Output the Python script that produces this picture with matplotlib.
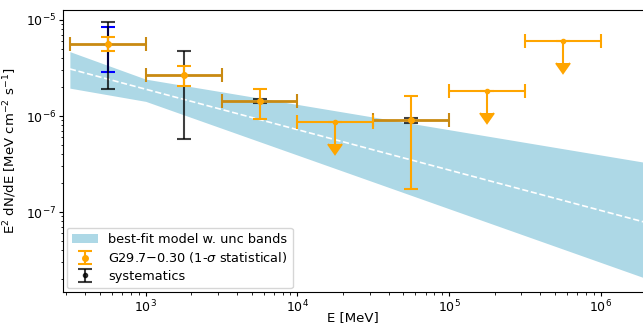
import numpy as np
import matplotlib
matplotlib.use("Agg")
import matplotlib.pyplot as plt

plt.rcParams['font.size'] = 9
plt.rcParams['xtick.major.size'] = 3
plt.rcParams['ytick.major.size'] = 3
plt.rcParams['xtick.minor.size'] = 1.8
plt.rcParams['ytick.minor.size'] = 1.8
plt.rcParams['xtick.major.pad'] = 2
plt.rcParams['ytick.major.pad'] = 2

# ---- data ----
E_lo = [316, 1000, 3162, 10000, 31623, 100000, 316228]
E_hi = [1000, 3162, 10000, 31623, 100000, 316228, 1000000]
E_c = [562, 1778, 5623, 17783, 56234, 177828, 562341]
flux = [5.62e-6, 2.67e-6, 1.43e-6, 8.72e-7, 9.08e-7, 1.82e-6, 6.04e-6]
is_ul = [False, False, False, True, False, True, True]
# statistical bounds (detections) / arrow ends (upper limits)
stat_low = [4.75e-6, 2.05e-6, 9.37e-7, 5.11e-7, 1.72e-7, 1.07e-6, 3.56e-6]
stat_high = [6.65e-6, 3.32e-6, 1.92e-6, 8.72e-7, 1.63e-6, 1.82e-6, 6.04e-6]
# systematic bounds (detections only)
sys_low = [1.91e-6, 5.75e-7, 1.35e-6, None, 8.39e-7, None, None]
sys_high = [9.53e-6, 4.79e-6, 1.49e-6, None, 9.46e-7, None, None]
# extra blue bar on the first bin
blue_E = [562]
blue_flux = [5.62e-6]
blue_low = [2.87e-6]
blue_high = [8.45e-6]

# model and uncertainty band
model_E = [316, 1000, 3162000]
model_F = [3.09e-6, 1.90e-6, 6.4e-8]
band_E = [316, 1000, 3162000]
band_up = [4.68e-6, 2.42e-6, 2.9e-7]
band_lo = [1.95e-6, 1.42e-6, 1.57e-8]

E_c = np.array(E_c, float); E_lo = np.array(E_lo, float); E_hi = np.array(E_hi, float)
flux = np.array(flux); is_ul = np.array(is_ul)
stat_low = np.array(stat_low); stat_high = np.array(stat_high)
det = ~is_ul
ul = is_ul

fig = plt.figure(figsize=(6.43, 3.28), dpi=100)
ax = fig.add_axes([63/643, 1-292/328, 1-63/643, (292-10)/328])

ax.fill_between(band_E, band_lo, band_up, color='lightblue', lw=0,
                label='best-fit model w. unc bands', zorder=1)
ax.plot(model_E, model_F, color='white', ls='--', lw=1.2, zorder=2)

# blue bar
ax.errorbar(blue_E, blue_flux,
            yerr=[np.array(blue_flux)-np.array(blue_low), np.array(blue_high)-np.array(blue_flux)],
            fmt='none', ecolor='blue', elinewidth=1.5, capsize=5, capthick=1.5, zorder=3)

# systematics
sidx = [i for i in range(len(sys_low)) if sys_low[i] is not None]
sE = E_c[sidx]; sF = flux[sidx]
sl = np.array([sys_low[i] for i in sidx]); sh = np.array([sys_high[i] for i in sidx])
ax.errorbar(sE, sF, yerr=[sF-sl, sh-sF], fmt='.', color='black', alpha=0.75,
            elinewidth=1.5, capsize=5, capthick=1.5, ms=6, label='systematics', zorder=4)

# horizontal bars of detections
ax.errorbar(E_c[det], flux[det], xerr=[E_c[det]-E_lo[det], E_hi[det]-E_c[det]],
            fmt='none', ecolor='#c98a12', elinewidth=2, capsize=5, capthick=1.5, zorder=5)
# vertical stat bars of detections
ax.errorbar(E_c[det], flux[det], yerr=[flux[det]-stat_low[det], stat_high[det]-flux[det]],
            fmt='o', color='orange', ms=4, elinewidth=1.5, capsize=5, capthick=1.5,
            label='G29.7$-$0.30 (1-$\\sigma$ statistical)', zorder=6)
# upper limits
ax.errorbar(E_c[ul], flux[ul], xerr=[E_c[ul]-E_lo[ul], E_hi[ul]-E_c[ul]],
            yerr=flux[ul]-stat_low[ul], uplims=True, fmt='o', color='orange', ms=3,
            elinewidth=1.5, capsize=5, capthick=1.5, zorder=6)

ax.set_xscale('log'); ax.set_yscale('log')
ax.set_xlim(10**2.5*0.9, 1.9e6)
ax.set_ylim(1.47e-8, 1.27e-5)
ax.spines['right'].set_visible(False)
ax.set_xlabel('E [MeV]', fontsize=9.5)
ax.xaxis.set_label_coords(0.5, -0.068)
ax.set_ylabel('E$^2$ dN/dE [MeV cm$^{-2}$ s$^{-1}$]', fontsize=9.5, labelpad=5)

h, l = ax.get_legend_handles_labels()
order = [l.index('best-fit model w. unc bands'), l.index('G29.7$-$0.30 (1-$\\sigma$ statistical)'), l.index('systematics')]
ax.legend([h[i] for i in order], [l[i] for i in order], loc='lower left',
          fontsize=9.3, labelspacing=0.35, borderaxespad=0.3)

fig.savefig('out.png', dpi=100)
